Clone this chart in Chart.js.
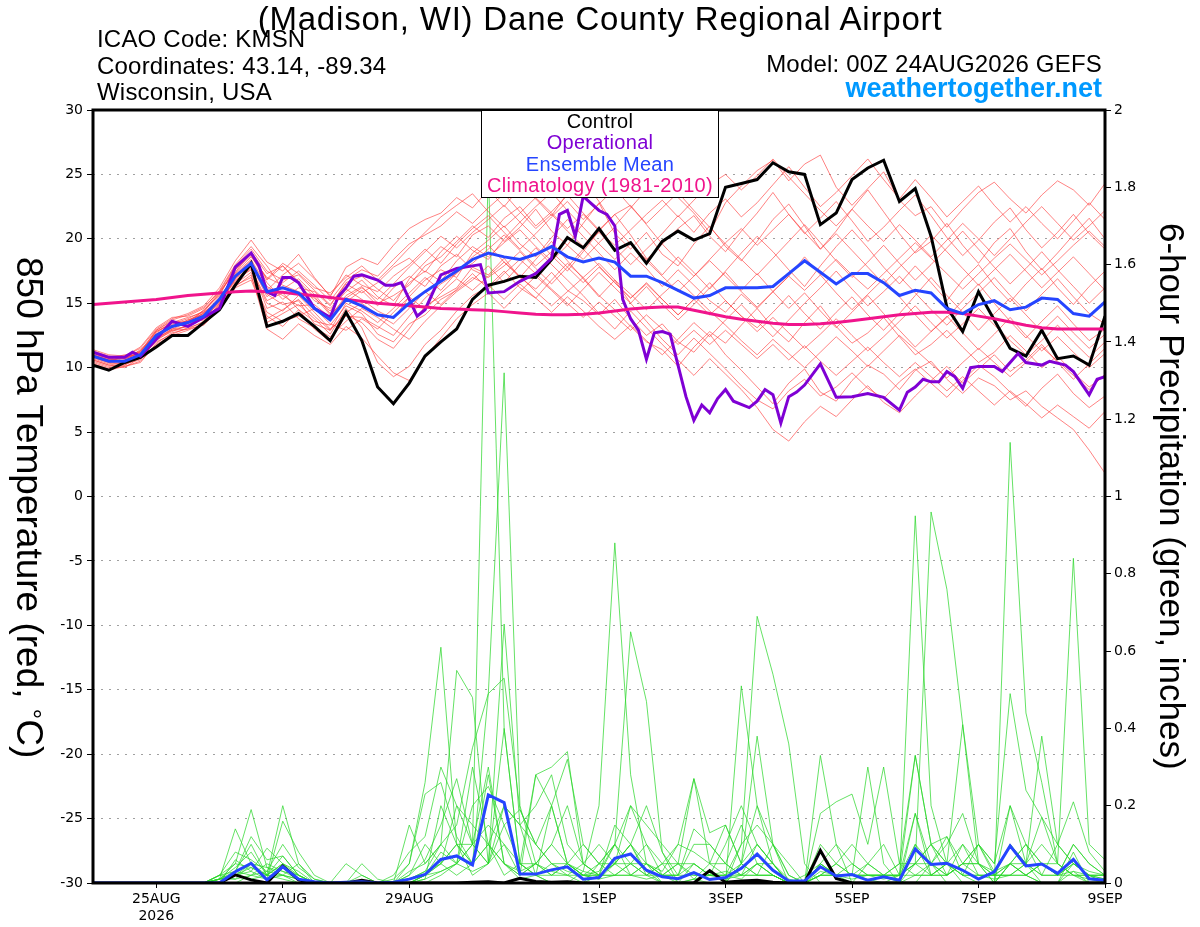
<!DOCTYPE html>
<html>
<head>
<meta charset="utf-8">
<script src="https://cdn.jsdelivr.net/npm/chart.js@4"></script>
<style>
  body { margin: 0; background: #fff; overflow: hidden; }
  #wrap { position: relative; width: 1200px; height: 927px; font-family: "Liberation Sans", Arial, sans-serif; }
  #wrap div.txt { position: absolute; white-space: nowrap; line-height: 1; color: #000; }
  #legend { position: absolute; left: 481px; top: 111px; width: 236px; height: 86px; background: #fff;
    border: 1px solid #000; border-top: none; text-align: center; font-size: 20px; line-height: 21.3px; letter-spacing: 0.3px; }
  .vt { position: absolute; writing-mode: vertical-rl; text-align: center; line-height: 40px; white-space: nowrap; }
</style>
</head>
<body>
<div id="wrap">
  <canvas id="chart" width="1200" height="927"></canvas>
  <div class="txt" style="left:0;top:2px;width:1200px;text-align:center;font-size:33px;letter-spacing:0.8px;">(Madison, WI) Dane County Regional Airport</div>
  <div class="txt" style="left:97px;top:27px;font-size:24px;letter-spacing:0.2px;">ICAO Code: KMSN</div>
  <div class="txt" style="left:97px;top:54px;font-size:24px;letter-spacing:0.2px;">Coordinates: 43.14, -89.34</div>
  <div class="txt" style="left:97px;top:80px;font-size:24px;letter-spacing:0.2px;">Wisconsin, USA</div>
  <div class="txt" style="right:98px;top:52px;font-size:24px;letter-spacing:0.2px;">Model: 00Z 24AUG2026 GEFS</div>
  <div class="txt" style="right:98px;top:75px;font-size:27px;font-weight:bold;color:#0099ff;">weathertogether.net</div>
  <div class="vt" style="left:12px;top:121px;height:773px;width:40px;font-size:37px;">850 hPa Temperature (red, <span style="font-size:70%;vertical-align:0.12em">°</span>C)</div>
  <div class="vt" style="left:1152px;top:110px;height:773px;width:40px;font-size:35px;">6-hour Precipitation (green, inches)</div>
  <div id="legend">
    <div style="color:#000">Control</div>
    <div style="color:#7f00d4">Operational</div>
    <div style="color:#2545ff">Ensemble Mean</div>
    <div style="color:#f0148c">Climatology (1981-2010)</div>
  </div>
</div>
<script>
// 6-hourly forecast hours from 00Z 24AUG2026
const hours6 = Array.from({ length: 65 }, (_, i) => i * 6);
const tickHours = [24, 72, 120, 192, 240, 288, 336, 384];
const tickLabels = [['25AUG', '2026'], '27AUG', '29AUG', '1SEP', '3SEP', '5SEP', '7SEP', '9SEP'];

const controlTemp = [10.2,9.8,10.4,10.8,11.6,12.5,12.5,13.5,14.5,16.4,
  18.1,13.2,13.6,14.2,13.2,12.1,14.3,12.1,8.5,7.2,
  8.8,10.9,12.0,13.0,15.3,16.4,16.7,17.1,17.0,18.4,
  20.1,19.3,20.8,19.1,19.7,18.1,19.8,20.6,19.9,20.4,
  24.0,24.3,24.6,25.9,25.2,25.0,21.1,22.0,24.6,25.5,
  26.1,22.9,23.9,20.2,14.7,12.8,15.9,13.7,11.5,10.9,
  12.9,10.7,10.9,10.2,14.0];

const meanTemp = [10.9,10.5,10.5,11.0,12.5,13.2,13.5,14.0,15.3,17.1,
  18.1,15.9,16.2,15.8,14.6,13.7,15.3,14.8,14.1,13.9,
  15.0,15.9,16.7,17.5,18.4,18.9,18.6,18.4,18.8,19.4,
  18.6,18.2,18.5,18.2,17.1,17.1,16.6,16.0,15.4,15.6,
  16.2,16.2,16.2,16.3,17.3,18.3,17.4,16.5,17.3,17.3,
  16.6,15.6,16.0,15.8,14.6,14.2,14.9,15.2,14.5,14.7,
  15.4,15.3,14.2,14.0,15.1];

const climoTemp = [14.9,15.0,15.1,15.2,15.3,15.45,15.6,15.7,15.8,15.9,
  15.95,15.9,15.85,15.7,15.6,15.45,15.3,15.15,15.0,14.9,
  14.8,14.7,14.6,14.55,14.5,14.45,14.35,14.25,14.15,14.1,
  14.1,14.15,14.25,14.4,14.55,14.65,14.7,14.7,14.45,14.2,
  13.95,13.75,13.6,13.45,13.35,13.35,13.4,13.5,13.65,13.8,
  13.95,14.1,14.2,14.3,14.3,14.2,14.0,13.8,13.55,13.3,
  13.1,13.0,13.0,13.0,13.0];

const operHours = [0,6,12,15,18,24,30,36,42,48,54,60,63,66,69,72,75,78,84,90,
  93,96,99,102,108,111,114,117,123,126,132,138,144,147,150,156,162,168,174,177,
  180,183,186,192,195,198,201,204,207,210,213,216,219,225,228,231,234,237,240,243,
  249,252,255,258,261,264,267,270,276,282,288,294,300,306,309,312,315,318,321,324,
  327,330,333,336,342,345,351,354,360,363,369,372,378,381,384];
const operTemp = [11.2,10.8,10.8,11.2,10.9,12.2,13.6,13.2,13.9,14.6,17.8,18.9,17.9,15.9,15.6,17.0,17.0,16.6,14.6,13.9,
  15.5,16.2,17.1,17.2,16.8,16.4,16.4,16.6,14.0,14.5,17.2,17.7,17.9,18.0,15.8,15.9,16.7,17.3,18.5,21.9,
  22.2,20.2,23.3,22.2,21.9,21.0,15.3,13.8,12.9,10.65,12.7,12.8,12.6,7.75,5.9,7.1,6.5,7.6,8.3,7.4,
  6.9,7.4,8.3,7.9,5.7,7.75,8.1,8.65,10.3,7.7,7.75,8.0,7.7,6.7,8.1,8.5,9.1,8.9,8.9,9.7,
  9.3,8.4,10.0,10.1,10.1,9.7,11.1,10.4,10.2,10.5,10.2,9.7,7.9,9.1,9.3];

// ensemble members, 850 hPa temperature
const memberTemps = [
  [11.2,10.8,10.9,11.5,13.0,13.8,14.2,14.8,16.2,18.3,19.9, 18.2,17.5,18.8,17.0,15.5,17.8,18.5, 18.0,19.5,20.8,21.5,22.0,23.2,22.4,
   23.8,22.5,24.0,23.1,21.8,23.5,24.6,22.9,21.0,22.4,23.8,24.9,23.2,22.0,20.5,22.8,24.1,
   25.3,26.1,24.5,25.8,26.5,24.0,22.6,23.9,25.2,23.0,21.8,22.5,20.9,22.3,23.6,24.4,23.1,22.0,23.4,24.5,23.8,22.6,24.3],
  [10.6,10.2,10.4,10.7,12.1,12.9,13.0,13.6,14.9,16.5,17.4, 14.0,13.2,14.5,13.0,12.0,14.1,13.5, 12.2,11.5,13.0,14.8,15.5,16.2,17.8,
   17.2,18.5,17.0,16.1,17.4,16.0,15.2,14.1,15.3,13.8,12.5,13.4,12.0,11.2,12.6,11.0,9.8,
   8.5,7.2,8.8,9.9,8.1,7.4,9.0,10.2,9.5,8.3,9.8,10.5,9.1,8.0,9.2,8.6,7.5,8.2,7.0,6.1,5.2,3.6,1.8],
  [11.0,10.6,10.3,10.9,12.7,13.5,13.9,14.3,15.8,17.6,18.9, 16.8,17.9,16.5,15.2,14.6,15.9,16.8, 15.5,14.8,16.9,18.2,19.4,18.6,20.3,
   21.0,19.8,20.9,22.3,20.6,19.5,21.2,22.8,20.4,19.2,20.5,18.8,17.9,19.6,21.0,19.4,18.3,
   19.8,21.5,22.7,21.0,19.2,20.6,22.3,23.8,22.1,20.4,18.9,19.8,21.2,19.5,18.1,19.7,20.8,19.0,17.6,18.9,20.3,21.6,20.0],
  [10.4,10.0,10.2,10.8,12.0,12.6,13.1,13.5,15.0,16.9,17.8, 13.5,14.2,14.9,13.8,12.6,14.6,13.1, 10.4,9.3,10.1,11.8,12.9,14.4,15.6,
   16.3,17.5,16.2,15.4,16.8,18.1,17.0,15.6,14.5,13.2,12.0,11.4,10.1,11.6,12.8,11.9,13.3,
   14.6,13.1,12.0,13.5,14.8,13.2,11.9,12.7,13.9,12.4,11.0,11.8,12.9,11.6,10.4,11.2,12.5,11.3,10.0,10.9,9.6,8.5,9.4],
  [11.3,10.9,10.7,11.2,12.9,13.6,13.4,14.5,15.6,17.9,19.2, 17.5,16.8,17.2,16.0,14.9,16.5,15.8, 16.6,17.8,18.5,17.4,19.0,20.2,19.1,
   18.4,20.0,21.3,20.1,18.7,17.5,19.0,20.6,21.9,20.3,18.5,17.2,18.6,17.4,16.1,17.5,18.9,
   20.2,19.0,17.6,16.3,17.9,19.4,20.7,19.3,17.8,16.5,17.9,16.6,15.2,16.8,18.0,16.4,15.1,16.5,17.7,16.2,14.9,16.3,17.5],
  [10.8,10.4,10.6,11.0,12.4,13.1,13.7,14.1,15.1,16.8,17.6, 15.0,14.4,15.6,14.3,13.0,14.0,13.9, 13.2,12.5,14.0,15.4,16.5,17.3,18.6,
   19.5,18.2,17.0,18.4,19.8,18.3,16.9,15.5,16.8,15.0,13.6,12.2,11.0,12.3,11.1,9.9,8.6,
   7.5,6.8,8.2,9.1,7.8,8.5,9.6,8.4,7.6,8.9,9.9,8.8,7.7,9.0,10.2,9.3,8.1,7.0,8.4,9.5,8.0,6.9,7.8],
  [11.1,10.7,10.5,11.3,12.6,13.3,13.5,14.0,15.4,17.3,18.4, 16.3,15.6,14.8,14.9,13.9,15.6,16.3, 15.0,15.6,16.4,17.9,18.6,19.8,21.0,
   20.1,21.6,22.5,21.0,22.1,23.4,22.0,20.7,21.9,22.6,21.1,19.6,20.8,21.8,20.2,19.0,20.6,
   22.0,23.6,21.9,20.4,21.6,22.9,21.4,19.8,20.9,22.2,23.4,21.8,20.1,18.7,19.9,21.3,22.4,20.7,19.3,20.5,21.9,20.4,19.2],
  [10.5,10.1,10.3,10.6,12.3,13.0,13.2,13.9,14.7,16.6,17.9, 14.6,15.1,13.8,13.1,12.4,13.6,14.6, 13.9,13.0,12.2,13.6,14.8,15.9,16.8,
   17.9,16.6,18.0,19.3,18.0,16.8,15.6,14.2,13.0,14.4,13.1,11.8,10.6,9.4,10.7,9.5,8.3,
   6.9,5.2,4.3,5.8,7.0,6.2,7.5,8.6,7.3,6.5,7.8,9.0,10.1,8.8,9.9,11.0,9.7,10.6,11.8,10.4,9.1,10.3,11.5],
  [11.0,10.6,10.8,11.1,12.8,13.4,13.8,14.4,15.9,17.4,18.6, 17.0,16.4,15.9,15.4,14.4,16.1,15.3, 14.4,13.8,15.5,16.8,17.6,17.0,18.9,
   19.9,21.0,19.6,18.6,20.1,21.5,20.2,18.9,17.6,18.9,17.7,16.3,17.6,16.4,15.2,14.3,15.7,
   14.6,15.9,17.1,18.6,17.2,15.8,14.5,15.7,16.9,15.5,14.1,12.8,13.9,15.2,16.5,15.0,13.6,12.3,13.6,14.8,13.4,12.1,13.0],
  [10.7,10.3,10.6,11.4,12.5,13.2,13.6,14.2,15.5,17.0,18.0, 15.5,16.6,17.5,16.4,15.2,16.8,17.6, 17.1,18.4,19.6,20.3,21.0,22.1,21.2,
   22.4,23.5,22.1,20.8,21.9,20.6,19.4,20.5,19.3,18.0,19.2,20.4,21.8,20.5,22.0,23.1,21.7,
   22.8,24.2,25.6,24.0,22.5,23.6,24.9,26.2,24.6,23.1,24.6,23.2,21.7,22.9,24.1,22.6,21.3,22.5,21.2,20.0,21.4,22.8,21.5],
  [11.4,11.0,10.9,11.6,13.1,13.9,14.0,14.6,16.0,18.0,19.4, 17.9,16.1,16.9,15.7,14.2,15.1,16.0, 14.8,16.2,17.1,16.3,17.9,18.8,17.6,
   17.0,17.9,19.0,17.7,16.5,17.8,19.2,17.9,16.6,15.4,16.6,15.3,14.1,15.3,16.6,15.2,14.0,
   13.1,14.3,15.6,14.2,13.0,14.3,15.5,14.1,12.9,14.2,15.6,17.0,15.6,14.3,12.9,14.2,15.4,14.1,12.8,14.0,12.7,11.5,12.6],
  [10.3,9.9,10.1,10.5,11.8,12.5,12.9,13.4,14.6,16.3,17.2, 13.0,12.2,13.4,12.5,11.8,13.2,12.3, 10.9,9.6,9.0,10.8,12.3,13.8,14.9,
   15.8,14.6,15.9,17.1,16.0,14.8,16.1,17.4,16.2,15.0,16.3,14.9,13.7,14.9,16.2,17.4,16.0,
   17.3,15.9,14.6,15.8,14.4,13.1,14.3,15.6,14.2,12.9,11.6,12.8,14.0,12.7,11.4,12.6,13.9,12.5,11.3,12.4,11.2,10.0,11.1],
  [11.2,10.8,10.4,11.0,12.6,13.3,13.3,14.3,15.2,17.2,18.3, 16.0,17.2,18.1,16.9,15.6,17.2,16.4, 15.9,17.1,18.0,19.2,18.1,19.6,20.8,
   21.8,20.5,19.2,20.4,21.7,22.9,21.5,22.7,23.9,22.5,21.2,22.4,23.6,22.2,20.9,19.6,18.4,
   17.2,18.5,19.8,21.1,19.7,18.3,17.0,18.2,19.5,18.1,16.8,18.0,19.3,20.6,19.2,17.8,16.5,17.7,19.0,17.6,16.3,15.0,16.2],
  [10.9,10.5,10.7,11.1,12.2,12.8,13.3,13.8,15.1,16.7,17.7, 15.2,15.8,14.5,13.6,13.3,14.8,14.2, 12.6,12.0,13.4,14.1,15.3,16.0,17.0,
   16.4,15.3,16.5,15.4,14.3,15.5,14.4,13.2,12.2,13.3,12.1,11.0,12.2,13.5,12.4,13.7,14.9,
   13.6,12.4,13.7,15.0,16.2,17.5,16.1,14.8,15.9,17.1,15.8,14.5,13.3,14.6,15.8,17.0,15.6,14.4,15.7,16.9,15.5,14.2,13.4],
  [11.0,10.6,10.8,11.3,12.9,13.7,14.1,14.7,15.9,17.9,18.8, 16.9,18.1,17.3,16.2,15.8,17.0,17.9, 16.8,18.0,19.3,20.5,21.7,22.6,23.5,
   22.1,20.9,22.0,23.2,22.0,20.8,21.9,20.6,19.5,20.7,21.9,23.0,21.7,23.0,24.2,25.0,23.8,
   24.9,26.2,24.8,23.5,22.2,21.0,22.3,21.0,19.8,21.1,19.9,18.6,19.9,21.2,20.0,18.7,20.0,21.3,22.5,21.2,19.9,21.0,22.2],
  [10.6,10.2,10.0,10.8,12.2,13.0,13.5,13.7,14.8,16.4,17.0, 14.3,13.6,14.0,14.6,13.4,12.9,13.8, 13.0,14.3,15.5,14.5,15.8,16.9,16.0,
   17.1,18.2,17.1,15.9,14.8,15.9,17.0,18.1,16.8,15.7,14.5,15.7,16.8,15.6,14.4,13.3,12.1,
   11.0,12.2,11.1,10.0,11.2,12.4,11.3,10.1,11.3,12.5,11.4,10.3,9.2,10.4,11.5,10.4,9.3,10.4,11.6,10.5,9.4,8.3,9.5],
  [11.1,10.7,11.0,11.2,12.8,13.5,13.6,14.4,15.7,17.6,18.7, 16.6,15.3,16.2,15.9,14.8,16.6,17.1, 16.1,15.2,16.6,17.5,16.7,18.3,19.4,
   18.6,19.7,20.7,19.4,18.3,19.5,18.4,19.7,20.9,19.6,18.4,19.6,18.3,17.1,18.4,19.7,20.8,
   19.5,20.7,21.9,20.5,19.2,20.4,19.1,17.8,16.5,17.8,19.0,20.3,19.0,17.7,16.4,17.6,18.8,17.5,16.2,17.4,18.6,17.3,16.0],
  [10.2,9.8,10.1,10.4,11.9,12.7,13.0,13.3,14.5,16.2,16.8, 13.8,14.5,15.3,14.0,12.9,14.3,15.0, 14.1,13.4,14.6,15.9,14.9,16.1,17.3,
   16.1,17.3,18.4,17.3,16.1,15.0,13.9,15.1,14.0,12.9,14.1,13.0,11.8,12.9,11.8,12.9,11.8,
   10.7,11.8,10.6,11.7,10.5,9.4,10.5,11.6,10.4,9.3,10.4,9.3,8.2,9.3,8.2,7.1,8.2,7.2,6.1,7.1,6.2,5.3,6.6],
  [10.9,10.5,10.9,11.0,12.4,13.2,13.7,14.2,15.3,17.4,19.0, 17.3,17.9,16.7,15.5,14.1,15.4,16.2, 15.3,16.5,17.8,19.0,20.2,19.3,20.5,
   21.5,22.6,21.3,22.5,23.6,22.2,20.9,19.6,18.4,19.6,18.3,17.1,15.9,17.1,18.3,17.1,15.9,
   14.7,15.9,17.1,16.0,17.2,18.4,17.2,16.1,17.3,18.5,19.7,18.5,17.3,16.1,17.3,18.5,19.6,18.4,17.2,18.3,19.5,20.6,19.4],
  [10.8,10.4,10.2,10.9,12.3,12.9,13.2,13.9,15.0,16.9,18.2, 15.7,14.9,15.2,13.4,12.9,15.0,14.4, 13.5,14.6,15.8,17.0,16.0,17.4,18.1,
   19.2,20.3,19.1,17.9,19.0,17.8,16.6,17.8,16.6,15.4,16.5,15.3,14.1,15.3,14.1,15.2,14.0,
   12.8,13.9,12.7,11.5,12.6,13.8,12.5,11.3,12.4,13.6,14.8,13.5,12.3,13.4,14.6,13.3,12.1,11.0,12.1,13.3,12.0,10.8,12.0]
];

// 6-hour precipitation (inches)
const meanPrecip = [0,0,0,0,0,0,0,0,0,0.029,
  0.051,0.008,0.042,0.01,0.003,0,0.002,0.003,0,0.002,
  0.01,0.022,0.061,0.07,0.047,0.228,0.208,0.023,0.023,0.034,
  0.042,0.01,0.014,0.064,0.075,0.033,0.016,0.011,0.027,0.009,
  0.014,0.038,0.075,0.033,0.005,0.005,0.042,0.018,0.022,0.007,
  0.016,0.007,0.088,0.048,0.051,0.033,0.01,0.029,0.096,0.044,
  0.049,0.025,0.061,0.011,0.007];

const controlPrecip = [0,0,0,0,0,0,0,0,0,0.021,
  0.008,0,0.044,0.008,0,0,0,0.007,0,0,
  0,0,0,0,0.002,0.003,0,0.012,0.004,0.002,
  0.003,0,0,0,0,0,0,0,0,0.032,
  0.002,0.005,0.007,0.002,0,0,0.084,0.012,0,0,
  0,0,0,0,0,0,0,0,0,0,
  0,0,0,0,0];

const memberPrecips = [
  [0,0,0,0,0,0,0,0,0.01,0.05, 0.19,0.04,0.02,0,0,0,0,0,0,0.02, 0.08,0.12,0.3,0.2,0.1,1.85,0.4,0.05,0.02,0,
   0,0.03,0.2,0.88,0.28,0.05,0,0,0,0, 0,0.05,0.2,0.1,0,0,0,0,0,0, 0,0,0.18,0.05,0,0,0,0,0.2,0.05, 0,0,0.08,0,0],
  [0,0,0,0,0,0,0,0,0.02,0.03, 0.1,0.02,0.2,0.05,0,0,0,0,0,0, 0.03,0.05,0.1,0.15,0.35,0.49,1.32,0.2,0.05,0.03,
   0.02,0,0.02,0.05,0.1,0.03,0,0,0.01,0, 0,0.51,0.2,0.05,0,0,0,0,0,0, 0,0,0.05,0.96,0.76,0.41,0.05,0,0.05,0.02, 0,0,0.05,0.02,0],
  [0,0,0,0,0,0,0,0,0.01,0.14, 0.05,0.01,0.16,0.08,0.02,0,0,0,0,0, 0.05,0.26,0.61,0.1,0.02,0.05,0.67,0.15,0.02,0,
   0,0,0.05,0.1,0.65,0.47,0.08,0,0,0, 0,0.1,0.69,0.54,0.36,0.05,0,0,0,0, 0,0,0,0.05,0.12,0.02,0,0,0.05,0.02, 0,0,0.03,0,0],
  [0,0,0,0,0,0,0,0,0,0.03, 0.12,0.06,0.07,0.02,0,0,0,0.05,0.01,0, 0.15,0.05,0.1,0.55,0.48,0.05,0.1,0.02,0.28,0.3,
   0.34,0.05,0.02,0.02,0.05,0.1,0.05,0,0,0, 0,0.05,0.1,0.05,0,0,0.33,0.1,0,0, 0,0,0.95,0.2,0.05,0,0,0,1.14,0.44, 0.26,0.05,0.02,0,0],
  [0,0,0,0,0,0,0,0,0.02,0.08, 0.06,0.03,0.1,0.04,0.01,0,0,0,0,0.01, 0.05,0.23,0.26,0.12,0.05,0.49,0.53,0.19,0.1,0.2,
   0.05,0.02,0.03,0.1,0.2,0.1,0.02,0.05,0.27,0.13, 0.15,0.05,0.38,0.1,0.02,0,0.18,0.21,0.23,0.1, 0.3,0.05,0.33,0.1,0.02,0.05,0.1,0.05,0.49,0.24, 0.17,0.05,0.84,0.1,0.06],
  [0,0,0,0,0,0,0,0,0.01,0.04, 0.08,0.02,0.05,0.03,0,0,0,0,0,0, 0.02,0.06,0.15,0.27,0.1,0.05,0.4,0.05,0.28,0.2,
   0.32,0.1,0.05,0.05,0.1,0.2,0.08,0.02,0.14,0.1, 0.05,0.02,0.05,0.05,0,0,0.05,0.02,0,0.05, 0.1,0.02,0.05,0.05,0.1,0.18,0.05,0,0.05,0.05, 0.38,0.1,0.21,0.08,0.03],
  [0,0,0,0,0,0,0,0,0.01,0.02, 0.05,0.04,0.03,0.02,0,0,0,0.02,0,0, 0,0.02,0.08,0.05,0.2,0.25,0.15,0.05,0.02,0.2,
   0.05,0.02,0.01,0.05,0.2,0.15,0.1,0.05,0.05,0.02, 0.1,0.2,0.1,0.05,0,0,0.1,0.05,0.02,0.3, 0.05,0,0.1,0.05,0.02,0.05,0.1,0.03,0.1,0.05, 0.17,0.1,0.05,0.03,0.02],
  [0,0,0,0,0,0,0,0,0,0.06, 0.03,0.09,0.05,0.01,0,0,0,0,0,0, 0.01,0.03,0.05,0.1,0.05,0.1,0.05,0.03,0.05,0.1,
   0.2,0.05,0.02,0.05,0.1,0.05,0.03,0.1,0.08,0.05, 0.05,0.15,0.05,0.02,0,0,0.02,0.05,0.1,0.05, 0.02,0.02,0.33,0.1,0.05,0.02,0.1,0.05,0.2,0.1, 0.05,0.02,0.1,0.05,0.02],
  [0,0,0,0,0,0,0,0,0.02,0.05, 0.04,0.02,0.02,0.05,0.01,0,0,0,0,0, 0,0.02,0.05,0.2,0.15,0.1,0.2,0.15,0.1,0.05,
   0.03,0.02,0.02,0.15,0.1,0.02,0,0,0.05,0.02, 0.02,0.1,0.15,0.1,0.02,0,0.05,0.1,0.05,0.02, 0.02,0.05,0.05,0.1,0.12,0.05,0.02,0.02,0.05,0.1, 0.05,0.02,0.05,0.02,0],
  [0,0,0,0,0,0,0,0,0.01,0.02, 0.03,0.01,0.04,0.02,0,0,0,0,0,0, 0,0.01,0.03,0.05,0.1,0.3,0.05,0.02,0.05,0.02,
   0.05,0.1,0.05,0.02,0.02,0.05,0.02,0,0.01,0.02, 0.03,0.02,0.05,0.02,0,0,0.03,0.02,0.02,0.02, 0.01,0.02,0.18,0.02,0.02,0.1,0.02,0.01,0.02,0.02, 0.05,0.02,0.03,0.02,0.01],
  [0,0,0,0,0,0,0,0,0,0, 0.02,0.01,0.02,0.01,0,0,0.05,0.02,0,0, 0,0,0.02,0.05,0.03,0.05,0.2,0.15,0.2,0.28,
   0.1,0.05,0.02,0.05,0.02,0.02,0.05,0.1,0.27,0.05, 0.15,0.05,0.02,0.02,0,0,0.02,0.02,0.05,0.02, 0.02,0.05,0.02,0.02,0.05,0.41,0.1,0.02,0.02,0.05, 0.1,0.05,0.02,0.01,0],
  [0,0,0,0,0,0,0,0,0.01,0.03, 0.02,0.05,0.03,0.01,0,0,0,0,0,0, 0,0.02,0.05,0.1,0.1,0.05,0.15,0.19,0.1,0.05,
   0.05,0.03,0.02,0.1,0.02,0.05,0.02,0.02,0.1,0.1, 0.05,0.02,0.02,0.1,0.05,0,0.02,0.02,0.02,0.02, 0.02,0.02,0.1,0.02,0.05,0.1,0.05,0.03,0.05,0.02, 0.05,0.05,0.02,0.02,0.02],
  [0,0,0,0,0,0,0,0,0.02,0.01, 0.05,0.02,0.07,0.02,0,0,0,0,0,0, 0.01,0.03,0.1,0.05,0.1,0.15,0.1,0.05,0.02,0.02,
   0.02,0.05,0.1,0.05,0.05,0.02,0.05,0.05,0.02,0.02, 0.02,0.05,0.02,0.02,0,0.02,0.05,0.02,0.02,0.05, 0.02,0,0.02,0.05,0.02,0.05,0.05,0.02,0.1,0.05, 0.02,0.1,0.05,0.02,0.02],
  [0,0,0,0,0,0,0,0,0,0.02, 0.01,0.02,0.01,0,0,0,0,0,0,0, 0,0.01,0.2,0.1,0.05,0.28,0.05,0.01,0.02,0.05,
   0.02,0.02,0.02,0.02,0.05,0.05,0.02,0.05,0.01,0.05, 0.02,0.01,0.05,0.02,0,0,0.02,0.02,0.02,0.01, 0,0.02,0.05,0.02,0.02,0.05,0.05,0.02,0.05,0.1, 0.02,0.02,0.05,0.02,0.01],
  [0,0,0,0,0,0,0,0,0.01,0.01, 0.02,0.03,0.02,0.01,0,0,0,0,0,0, 0.02,0.1,0.05,0.02,0.05,0.1,0.02,0.05,0.05,0.02,
   0.05,0.02,0.01,0.02,0.02,0.01,0.02,0.02,0.02,0.02, 0.02,0.02,0.02,0.02,0,0,0.05,0.02,0.01,0.02, 0.02,0.02,0.02,0.02,0.05,0.02,0.02,0.02,0.02,0.05, 0.02,0.02,0.02,0.02,0.02],
  [0,0,0,0,0,0,0,0,0,0.02, 0.04,0.02,0.05,0.02,0,0,0,0,0,0, 0,0.02,0.03,0.05,0.3,0.1,0.05,0.02,0.05,0.1,
   0.05,0.02,0.05,0.1,0.05,0.02,0.02,0.02,0.05,0.02, 0.01,0.02,0.1,0.05,0.01,0,0.02,0.05,0.02,0.02, 0.02,0.02,0.05,0.1,0.05,0.02,0.02,0.02,0.02,0.02, 0.05,0.02,0.1,0.05,0.02]
];

const tickFont = { family: "'DejaVu Sans', sans-serif", size: 14 };

function pts(values, hours) {
  return values.map((v, i) => ({ x: hours[i], y: v }));
}

function line(values, hours, axis, color, width, order) {
  return {
    data: pts(values, hours),
    yAxisID: axis,
    borderColor: color,
    borderWidth: width,
    pointRadius: 0,
    tension: 0,
    fill: false,
    order: order
  };
}

const datasets = [];
datasets.push(line(meanTemp, hours6, 'yT', '#2545ff', 3, 1));
datasets.push(line(climoTemp, hours6, 'yT', '#f0148c', 3, 2));
datasets.push(line(operTemp, operHours, 'yT', '#7f00d4', 3, 3));
datasets.push(line(controlTemp, hours6, 'yT', '#000000', 3, 4));
datasets.push(line(meanPrecip, hours6, 'yP', '#2545ff', 3, 5));
datasets.push(line(controlPrecip, hours6, 'yP', '#000000', 3, 6));
memberTemps.forEach(m => datasets.push(line(m, hours6, 'yT', 'rgba(255,60,60,0.8)', 0.8, 20)));
memberPrecips.forEach(m => datasets.push(line(m, hours6, 'yP', 'rgba(40,215,40,0.9)', 0.8, 21)));

// thick black frame round the plot area
const framePlugin = {
  id: 'frame',
  afterDatasetsDraw(chart) {
    const { ctx, chartArea: a } = chart;
    ctx.save();
    ctx.strokeStyle = '#000';
    ctx.lineWidth = 3;
    ctx.strokeRect(a.left, a.top, a.right - a.left, a.bottom - a.top);
    ctx.restore();
  }
};

new Chart(document.getElementById('chart').getContext('2d'), {
  type: 'line',
  data: { datasets },
  plugins: [framePlugin],
  options: {
    responsive: false,
    animation: false,
    layout: { padding: { top: 110, left: 0, right: 0, bottom: 0 } },
    plugins: { legend: { display: false }, tooltip: { enabled: false } },
    scales: {
      x: {
        type: 'linear',
        min: 0,
        max: 384,
        afterBuildTicks: s => { s.ticks = tickHours.map(v => ({ value: v })); },
        afterFit: s => { s.height = 44; },
        ticks: {
          autoSkip: false,
          maxRotation: 0,
          padding: 3,
          color: '#000',
          font: tickFont,
          callback: (v, i) => tickLabels[i]
        },
        grid: { drawOnChartArea: false, tickLength: 5, tickColor: '#000', tickWidth: 1 },
        border: { display: false }
      },
      yT: {
        position: 'left',
        min: -30,
        max: 30,
        afterFit: s => { s.width = 93; },
        ticks: { stepSize: 5, color: '#000', font: tickFont, padding: 4 },
        grid: { color: '#a0a0a0', lineWidth: 1, tickLength: 6, tickColor: '#000', tickWidth: 1, tickBorderDash: [] },
        border: { display: false, dash: [2, 6] }
      },
      yP: {
        position: 'right',
        min: 0,
        max: 2,
        afterFit: s => { s.width = 95; },
        ticks: {
          stepSize: 0.2,
          color: '#000',
          font: tickFont,
          padding: 3,
          callback: v => String(Math.round(v * 10) / 10)
        },
        grid: { drawOnChartArea: false, tickLength: 6, tickColor: '#000', tickWidth: 1 },
        border: { display: false }
      }
    }
  }
});
</script>
</body>
</html>
